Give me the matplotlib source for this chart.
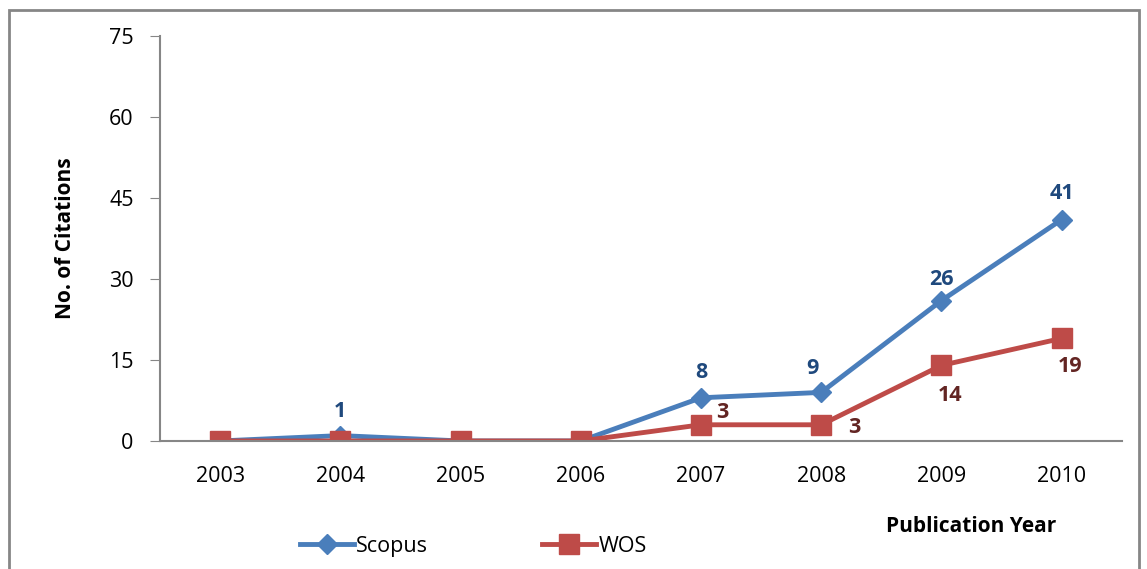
import matplotlib.pyplot as plt
from matplotlib.patches import Rectangle

plt.rcParams['font.family'] = ['Open Sans', 'DejaVu Sans']

# data
years = ['2003', '2004', '2005', '2006', '2007', '2008', '2009', '2010']
scopus = [0, 1, 0, 0, 8, 9, 26, 41]
wos = [0, 0, 0, 0, 3, 3, 14, 19]

# label offsets (points) for non-zero values
scopus_off = {1: (0, 17), 4: (0, 18), 5: (-6, 17), 6: (0, 15), 7: (0, 19)}
wos_off = {4: (15, 9), 5: (24, -2), 6: (6, -22), 7: (6, -20)}

blue = '#4A7EBB'
red = '#BE4B48'
grey = '#868686'

fig = plt.figure(figsize=(11.47, 5.69), dpi=100)
ax = fig.add_axes([0.1395, 0.225, 0.8385, 0.7117])

x = range(len(years))
ax.plot(x, scopus, color=blue, lw=3.5, marker='D', ms=10, label='Scopus')
ax.plot(x, wos, color=red, lw=3.5, marker='s', ms=14, label='WOS')

for i, v in enumerate(scopus):
    if v:
        ax.annotate(str(v), (i, v), xytext=scopus_off[i], textcoords='offset points',
                    ha='center', va='center', fontsize=15.5, fontweight='bold', color='#1F497D')
for i, v in enumerate(wos):
    if v:
        ax.annotate(str(v), (i, v), xytext=wos_off[i], textcoords='offset points',
                    ha='center', va='center', fontsize=15.5, fontweight='bold', color='#632523')

ax.set_xlim(-0.5, 7.5)
ax.set_ylim(0, 75)
ax.set_yticks([0, 15, 30, 45, 60, 75])
ax.set_xticks(list(x))
ax.set_xticklabels(years)
ax.tick_params(axis='y', length=7, color=grey, labelsize=15.5, pad=12)
ax.tick_params(axis='x', length=0, labelsize=15.5, pad=18)
for s in ['top', 'right']:
    ax.spines[s].set_visible(False)
for s in ['left', 'bottom']:
    ax.spines[s].set_color(grey)
    ax.spines[s].set_linewidth(1.5)
ax.spines['bottom'].set_bounds(-0.5, 7.5)

ax.set_ylabel('No. of Citations', fontsize=15, fontweight='bold', labelpad=24)
fig.text(0.847, 0.075, 'Publication Year', ha='center', va='center',
         fontsize=15, fontweight='bold')

fig.legend(loc='center left', bbox_to_anchor=(0.245, 0.04), ncol=2, frameon=False,
           fontsize=15.5, handlelength=2.5, handletextpad=0.1, columnspacing=5.3)

fig.patches.append(Rectangle((0.008, -0.02), 0.985, 1.003, transform=fig.transFigure,
                             fill=False, edgecolor=grey, lw=2))

fig.savefig('out.png', dpi=100)
